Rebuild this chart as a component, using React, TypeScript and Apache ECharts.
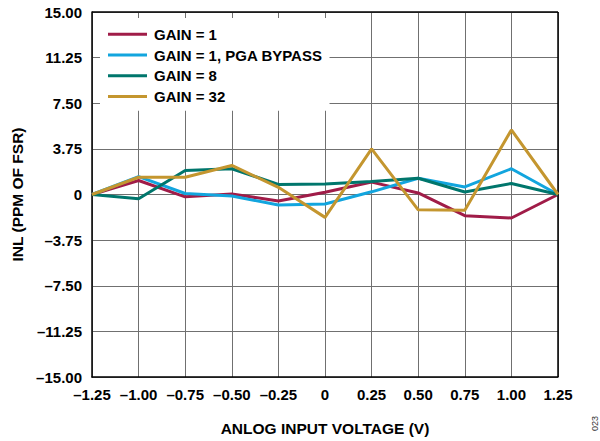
import React, { useEffect, useRef } from "react";
import * as echarts from "echarts";

const xValues = [-1.25, -1.0, -0.75, -0.5, -0.25, 0, 0.25, 0.5, 0.75, 1.0, 1.25];
const gain1 = [0, 1.15, -0.19, 0.05, -0.54, 0.19, 1.02, 0.13, -1.74, -1.93, 0];
const gain1Bypass = [0, 1.47, 0.08, -0.13, -0.86, -0.78, 0.22, 1.34, 0.62, 2.12, 0];
const gain8 = [0, -0.35, 1.98, 2.12, 0.83, 0.86, 1.07, 1.34, 0.21, 0.91, 0];
const gain32 = [0, 1.42, 1.42, 2.39, 0.59, -1.88, 3.75, -1.26, -1.29, 5.31, 0];

const seriesNames = ["GAIN = 1", "GAIN = 1, PGA BYPASS", "GAIN = 8", "GAIN = 32"];
const seriesColors = ["#A01C48", "#12A5DE", "#00766C", "#C4962F"];
const seriesData = [gain1, gain1Bypass, gain8, gain32];

const xTickLabels: Record<string, string> = {
  "-1.25": "–1.25", "-1": "–1.00", "-0.75": "–0.75", "-0.5": "–0.50", "-0.25": "–0.25",
  "0": "0", "0.25": "0.25", "0.5": "0.50", "0.75": "0.75", "1": "1.00", "1.25": "1.25",
};
const yTickLabels: Record<string, string> = {
  "-15": "–15.00", "-11.25": "–11.25", "-7.5": "–7.50", "-3.75": "–3.75", "0": "0",
  "3.75": "3.75", "7.5": "7.50", "11.25": "11.25", "15": "15.00",
};

const FONT = "'Liberation Sans', Arial, sans-serif";

export default function App() {
  const ref = useRef<HTMLDivElement>(null);
  useEffect(() => {
    if (!ref.current) return;
    const chart = echarts.init(ref.current, null, { renderer: "svg" });
    const txt = { fontFamily: FONT, fontWeight: "bold" as const, color: "#000" };
    chart.setOption({
      animation: false,
      backgroundColor: "#fff",
      grid: { left: 92, top: 12, right: 42, bottom: 57, containLabel: false },
      xAxis: {
        type: "value",
        min: -1.25,
        max: 1.25,
        interval: 0.25,
        name: "ANLOG INPUT VOLTAGE (V)",
        nameLocation: "middle",
        nameGap: 43,
        nameTextStyle: { ...txt, fontSize: 15.5 },
        axisLine: { show: true, onZero: false, lineStyle: { color: "#000", width: 1.5 } },
        axisTick: { show: false },
        axisLabel: {
          ...txt,
          fontSize: 15,
          margin: 10,
          formatter: (v: number) => xTickLabels[String(v)] ?? String(v),
        },
        splitLine: { show: true, lineStyle: { color: "#707070", width: 1 } },
      },
      yAxis: {
        type: "value",
        min: -15,
        max: 15,
        interval: 3.75,
        name: "INL (PPM OF FSR)",
        nameLocation: "middle",
        nameGap: 66,
        nameTextStyle: { ...txt, fontSize: 15.5 },
        axisLine: { show: true, onZero: false, lineStyle: { color: "#000", width: 1.5 } },
        axisTick: { show: false },
        axisLabel: {
          ...txt,
          fontSize: 15,
          margin: 10,
          formatter: (v: number) => yTickLabels[String(v)] ?? String(v),
        },
        splitLine: { show: true, lineStyle: { color: "#707070", width: 1 } },
      },
      legend: {
        show: true,
        orient: "vertical",
        left: 100,
        top: 18,
        padding: [6, 7, 4, 8],
        backgroundColor: "#fff",
        itemGap: 0,
        itemWidth: 39,
        itemHeight: 3,
        icon: "rect",
        textStyle: { ...txt, fontSize: 15, lineHeight: 20.7, padding: [0, 0, 0, 2] },
        data: seriesNames.map((n, i) => ({ name: n, itemStyle: { color: seriesColors[i] } })),
      },
      graphic: [
        {
          type: "text",
          left: 590,
          top: 416,
          rotation: Math.PI / 2,
          style: { text: "023", fontSize: 9, fontFamily: FONT, fill: "#333" },
        },
      ],
      series: [
        ...seriesData.map((d, i) => ({
          name: seriesNames[i],
          type: "line",
          data: xValues.map((x, j) => [x, d[j]]),
          showSymbol: false,
          symbol: "none",
          color: seriesColors[i],
          lineStyle: { color: seriesColors[i], width: 3 },
          z: 3 + i,
        })),
        {
          name: "frame",
          type: "line",
          data: [],
          markLine: {
            silent: true,
            symbol: "none",
            label: { show: false },
            lineStyle: { color: "#000", width: 1.5, type: "solid" },
            data: [
              [{ coord: [-1.25, 15] }, { coord: [1.25, 15] }],
              [{ coord: [1.25, 15] }, { coord: [1.25, -15] }],
            ],
          },
        },
      ],
    });
    return () => chart.dispose();
  }, []);
  return <div ref={ref} style={{ width: 600, height: 441, position: "absolute", left: 0, top: 0 }} />;
}
